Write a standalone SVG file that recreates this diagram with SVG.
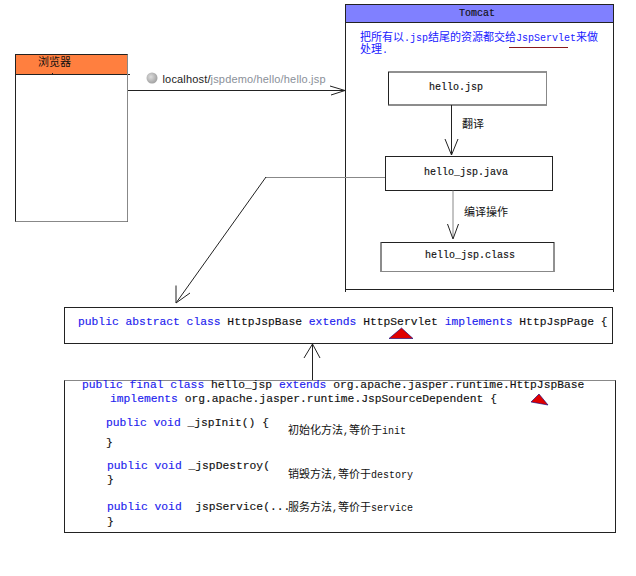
<svg xmlns="http://www.w3.org/2000/svg" width="636" height="576" viewBox="0 0 636 576">
<style>
text{white-space:pre}
.m{font-family:"Liberation Mono","Noto Sans CJK SC",monospace;font-size:10px;fill:#111;stroke:#111;stroke-width:.15}
.c{font-family:"Liberation Mono",monospace;font-size:11.32px;fill:#111;stroke:#111;stroke-width:.15}
.k{fill:#2222EE;stroke:#2222EE}
.z{font-family:"Noto Sans CJK SC",sans-serif;font-size:11px;fill:#111}
.y{font-family:"Liberation Mono",monospace;font-size:10px}
.u{font-family:"Noto Sans CJK SC",sans-serif;font-size:11px;fill:#1A1AFF}
.b{fill:#fff;stroke:#222;stroke-width:1}
.g{fill:none;stroke:#888;stroke-width:1}
.l{fill:none;stroke:#222;stroke-width:1}
.t{fill:#E00000;stroke:#000080;stroke-width:.6}
</style>
<defs>
<radialGradient id="globe" cx=".4" cy=".4" r=".7"><stop offset="0" stop-color="#ddd"/><stop offset="1" stop-color="#999"/></radialGradient>
</defs>
<rect width="636" height="576" fill="#fff"/>
<g id="browser">
<rect class="b" x="15.500" y="54.500" width="112" height="167"/>
<rect x="16" y="55" width="111" height="19" fill="#FF7F3F"/>
<path class="l" d="M15.500 74.500H130"/>
<path class="l" d="M52.500 73V74"/>
<path class="g" d="M127.500 54.500V221.500H15.500"/>
<text class="z" x="38" y="66">浏览器</text>
</g>
<g id="url">
<circle cx="152" cy="78" r="5.500" fill="url(#globe)"/>
<text x="162.500" y="83" font-family="Liberation Sans,sans-serif" font-size="11px" fill="#222" textLength="163">localhost/<tspan fill="#8a9099">jspdemo/hello/hello.jsp</tspan></text>
</g>
<g id="tomcat">
<rect x="345.500" y="4.500" width="268" height="285" fill="#fff" stroke="#222"/>
<rect x="346" y="5" width="267" height="17.500" fill="#8080FF"/>
<path class="l" d="M345.500 22.500H613.500"/>
<path class="l" d="M345.500 289.500V292M613.500 289.500V292"/>
<text class="m" x="477" y="16" text-anchor="middle">Tomcat</text>
<text class="u" x="360" y="41">把所有以<tspan class="y">.jsp</tspan>结尾的资源都交给<tspan class="y">JspServlet</tspan>来做</text>
<text class="u" x="360" y="53">处理<tspan class="y">.</tspan></text>
<path d="M509 47.500H568" stroke="#8B1A1A" stroke-width="1" fill="none"/>
</g>
<g id="hello-jsp">
<rect class="b" x="388.500" y="72" width="158" height="33"/>
<path class="g" d="M546.500 72V105H388.500"/>
<text class="m" x="429" y="90">hello.jsp</text>
</g>
<g id="hello-jsp-java">
<rect class="b" x="385.500" y="156.500" width="167" height="34"/>
<text class="m" x="424" y="175">hello_jsp.java</text>
</g>
<g id="hello-jsp-class">
<rect class="b" x="381" y="242.500" width="173" height="29"/>
<path class="g" d="M381 271.500V242.500M381 271.500H554"/>
<text class="m" x="425" y="258">hello_jsp.class</text>
</g>
<g id="connectors">
<path class="l" d="M128 90.500H345M330 86L345 90.500L331 95"/>
<path class="l" d="M451.500 105V155M445 139L451.500 155L458 139"/>
<path class="g" d="M453 190.500V238"/>
<path class="l" d="M447.500 224L453 239L458.500 224"/>
<path class="g" d="M385 177.500H265"/>
<path class="l" d="M266 177L176 303M176 285.500V303L190 293"/>
<path class="l" d="M312.500 381V344M304 358L312.500 344L320 358"/>
</g>
<g id="http-jsp-base">
<rect class="b" x="64.500" y="307.500" width="548" height="36"/>
<text class="c" x="78" y="325"><tspan class="k">public abstract class</tspan> HttpJspBase <tspan class="k">extends</tspan> HttpServlet <tspan class="k">implements</tspan> HttpJspPage {</text>
<path class="t" d="M389 338.500L401.500 328L413 338.500Z"/>
</g>
<g id="hello-jsp-class-code">
<rect class="b" x="64.500" y="380.500" width="551" height="152"/>
<path class="g" d="M64.500 380.500H615.500"/>
<text class="c" x="82" y="388"><tspan class="k">public final class</tspan> hello_jsp <tspan class="k">extends</tspan> org.apache.jasper.runtime.HttpJspBase</text>
<text class="c" x="110" y="402"><tspan class="k">implements</tspan> org.apache.jasper.runtime.JspSourceDependent {</text>
<path class="t" d="M531 402L539 394L548 405Z"/>
<text class="c" x="106" y="426"><tspan class="k">public void</tspan> _jspInit() {</text>
<text class="c" x="106" y="446">}</text>
<text class="c" x="107" y="469"><tspan class="k">public void</tspan> _jspDestroy(</text>
<text class="c" x="107" y="483">}</text>
<text class="c" x="107" y="510"><tspan class="k">public void</tspan>  jspService(...</text>
<text class="c" x="107" y="525">}</text>
<text class="z" x="288" y="434">初始化方法<tspan class="y">,</tspan>等价于<tspan class="y">init</tspan></text>
<text class="z" x="288" y="478">销毁方法<tspan class="y">,</tspan>等价于<tspan class="y">destory</tspan></text>
<text class="z" x="288" y="511">服务方法<tspan class="y">,</tspan>等价于<tspan class="y">service</tspan></text>
</g>
<g id="labels">
<text class="z" x="462" y="128">翻译</text>
<text class="z" x="464" y="216">编译操作</text>
</g>
</svg>
